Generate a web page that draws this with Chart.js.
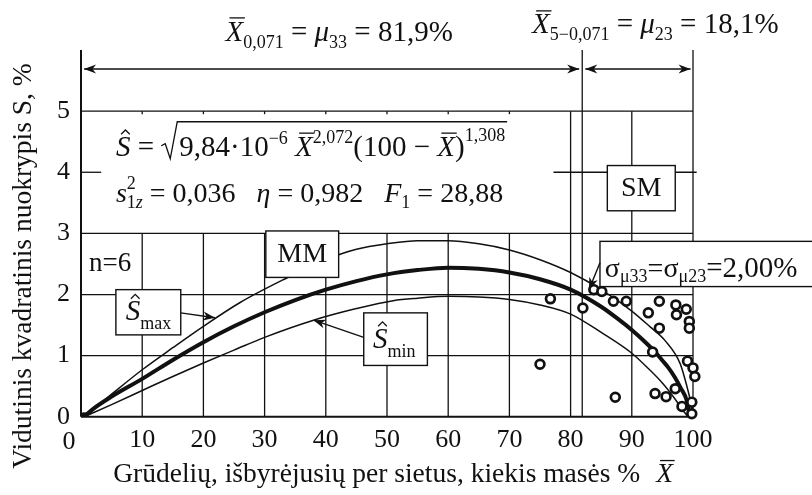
<!DOCTYPE html>
<html lang="lt">
  <head>
    <meta charset="utf-8" />
    <title>Vidutinis kvadratinis nuokrypis</title>
    <style>
      * {
        margin: 0;
        padding: 0;
      }
      body {
        background: #fff;
      }
    </style>
  </head>
  <body>
    <canvas id="myChart" width="812" height="495"></canvas>

    <script src="https://cdn.jsdelivr.net/npm/chart.js"></script>

    <script>
      const SERIF = '"Liberation Serif", "Times New Roman", serif';
      const INK = "#111";

      // y axis tick labels (axis runs to 6, no label there)
      const yTicks = [0, 1, 2, 3, 4, 5];

      // bold curve: regression S^
      const meanX = [0.5, 2, 5, 10, 15, 20, 25, 30, 35, 40, 45, 50, 55, 60, 65, 70, 75, 80, 85, 88, 90, 92, 94, 95, 96, 97, 98, 99, 99.5];
      const meanS = [0, 0.13, 0.33, 0.62, 0.93, 1.22, 1.48, 1.71, 1.91, 2.08, 2.22, 2.33, 2.4, 2.44, 2.42, 2.36, 2.25, 2.08, 1.8, 1.58, 1.42, 1.24, 1.04, 0.92, 0.8, 0.65, 0.47, 0.26, 0];

      // upper thin curve S^max
      const maxX = [0.5, 5, 10, 15, 20, 26, 33, 40, 45, 50, 55, 60, 65, 70, 75, 80, 85, 90, 93, 95.4, 97.9, 99, 99.6, 100];
      const maxS = [0, 0.37, 0.77, 1.13, 1.48, 1.87, 2.24, 2.57, 2.74, 2.83, 2.88, 2.88, 2.83, 2.73, 2.57, 2.36, 2.08, 1.73, 1.47, 1.25, 0.87, 0.5, 0.25, 0];

      // lower thin curve S^min
      const minX = [0.5, 5, 10, 15, 20, 25, 30, 38, 45, 51, 55, 60, 65, 70, 75, 80, 85, 90, 93, 95.1, 97, 98.4, 99.2];
      const minS = [0, 0.2, 0.43, 0.66, 0.88, 1.09, 1.3, 1.58, 1.77, 1.9, 1.94, 1.97, 1.96, 1.92, 1.83, 1.68, 1.38, 1.04, 0.76, 0.54, 0.3, 0.1, 0];

      // measured points
      const obsX = [76.7, 75.0, 82.0, 83.8, 85.1, 87.0, 89.1, 94.5, 97.2, 98.9, 92.7, 97.3, 99.4, 99.4, 94.5, 93.4, 99.1, 100, 100.3, 87.3, 93.8, 95.6, 97.1, 98.2, 99.8, 99.8];
      const obsS = [1.93, 0.86, 1.78, 2.08, 2.05, 1.89, 1.89, 1.89, 1.83, 1.76, 1.7, 1.67, 1.56, 1.45, 1.45, 1.06, 0.91, 0.8, 0.66, 0.32, 0.38, 0.33, 0.46, 0.17, 0.24, 0.05];

      const pts = (xs, ys) => xs.map((x, i) => ({ x: x, y: ys[i] }));

      function setFont(ctx, size, italic) {
        ctx.font = (italic ? "italic " : "") + size + "px " + SERIF;
      }

      // draw a run of text pieces (sub/superscripts, overbars, hats)
      function rich(ctx, x, y, parts, base) {
        ctx.textAlign = "left";
        ctx.textBaseline = "alphabetic";
        for (const p of parts) {
          const size = p.s || base;
          setFont(ctx, size, p.i);
          const yy = y + (p.dy || 0);
          ctx.fillText(p.t, x, yy);
          const w = ctx.measureText(p.t).width;
          const top = yy - size * 0.66;
          ctx.lineWidth = 1.3;
          if (p.bar) {
            ctx.beginPath();
            ctx.moveTo(x + size * 0.14, top - size * 0.12);
            ctx.lineTo(x + w + size * 0.06, top - size * 0.12);
            ctx.stroke();
          }
          if (p.hat) {
            const cx = x + w / 2 + size * 0.08;
            const yt = top - size * 0.08;
            ctx.beginPath();
            ctx.moveTo(cx - size * 0.15, yt);
            ctx.lineTo(cx, yt - size * 0.15);
            ctx.lineTo(cx + size * 0.15, yt);
            ctx.stroke();
          }
          if (!p.stay) x += w;
        }
        return x;
      }

      function arrowHead(ctx, x1, y1, x2, y2, len, half) {
        const a = Math.atan2(y2 - y1, x2 - x1);
        ctx.beginPath();
        ctx.moveTo(x2, y2);
        ctx.lineTo(x2 - len * Math.cos(a) + half * Math.sin(a), y2 - len * Math.sin(a) - half * Math.cos(a));
        ctx.lineTo(x2 - len * 0.7 * Math.cos(a), y2 - len * 0.7 * Math.sin(a));
        ctx.lineTo(x2 - len * Math.cos(a) - half * Math.sin(a), y2 - len * Math.sin(a) + half * Math.cos(a));
        ctx.closePath();
        ctx.fill();
      }

      function arrow(ctx, x1, y1, x2, y2, both) {
        ctx.lineWidth = 1.4;
        ctx.beginPath();
        ctx.moveTo(x1, y1);
        ctx.lineTo(x2, y2);
        ctx.stroke();
        arrowHead(ctx, x1, y1, x2, y2, 12, 4.5);
        if (both) arrowHead(ctx, x2, y2, x1, y1, 12, 4.5);
      }

      const frame = {
        id: "frame",
        beforeDatasetsDraw(chart) {
          const { ctx, scales: { x, y } } = chart;
          const px = (v) => x.getPixelForValue(v);
          const py = (v) => y.getPixelForValue(v);
          ctx.save();
          ctx.strokeStyle = INK;
          const H = (v, a, b, w) => {
            ctx.lineWidth = w || 1.3;
            ctx.beginPath();
            ctx.moveTo(px(a), py(v));
            ctx.lineTo(px(b), py(v));
            ctx.stroke();
          };
          const V = (v, a, b, w) => {
            ctx.lineWidth = w || 1.3;
            ctx.beginPath();
            ctx.moveTo(px(v), py(a));
            ctx.lineTo(px(v), py(b));
            ctx.stroke();
          };
          [1, 2, 3, 5].forEach((v) => H(v, 0, 100));
          H(0, 0, 100, 2);
          H(4, 0, 3.3);
          H(4, 77.2, 100.6);
          x.ticks.forEach((t) => {
            if (t.value > 0 && t.value < 80) {
              V(t.value, 0, 3);
              V(t.value, 4.95, 5);
            }
          });
          V(0, 0, 6, 2);
          V(100, 0, 6);
          V(81.9, 0, 6);
          V(80, 0, 5);
          V(90, 0, 5);
          ctx.restore();
        },
        afterDatasetsDraw(chart) {
          const { ctx, scales: { x, y } } = chart;
          const px = (v) => x.getPixelForValue(v);
          const py = (v) => y.getPixelForValue(v);
          ctx.save();
          ctx.strokeStyle = INK;
          ctx.fillStyle = INK;

          const box = (x1, y1, x2, y2) => {
            ctx.fillStyle = "#fff";
            ctx.fillRect(px(x1), py(y2), px(x2) - px(x1), py(y1) - py(y2));
            ctx.lineWidth = 1.4;
            ctx.strokeRect(px(x1), py(y2), px(x2) - px(x1), py(y1) - py(y2));
            ctx.fillStyle = INK;
          };

          // the "0" of the x axis sits left of the corner
          setFont(ctx, 26, false);
          ctx.textAlign = "center";
          ctx.textBaseline = "alphabetic";
          ctx.fillText("0", px(0) - 12, py(0) + 32);

          // top arrows and labels
          arrow(ctx, px(0.5), py(5.69), px(81.4), py(5.69), true);
          arrow(ctx, px(82.4), py(5.69), px(99.6), py(5.69), true);
          rich(ctx, px(23.6), py(6.155), [
            { t: "X", i: 1, bar: 1 }, { t: "0,071", s: 18, dy: 7 }, { t: " = " },
            { t: "μ", i: 1 }, { t: "33", s: 18, dy: 7 }, { t: " = 81,9%" },
          ], 29);
          rich(ctx, px(73.7), py(6.27), [
            { t: "X", i: 1, bar: 1 }, { t: "5−0,071", s: 18, dy: 7 }, { t: " = " },
            { t: "μ", i: 1 }, { t: "23", s: 18, dy: 7 }, { t: " = 18,1%" },
          ], 29);

          // regression formula
          const fy = py(4.27);
          const r0 = rich(ctx, px(5.7), fy, [{ t: "S", i: 1, hat: 1 }, { t: " = " }], 29);
          const fEnd = rich(ctx, r0 + 18, fy, [
            { t: "9,84·10" }, { t: "−6", s: 18, dy: -12 }, { t: " " },
            { t: "X", i: 1, bar: 1 }, { t: "2,072", s: 18, dy: -13 },
            { t: "(100 − " }, { t: "X", i: 1, bar: 1 }, { t: ")" }, { t: "1,308", s: 18, dy: -15 },
          ], 29);
          ctx.lineWidth = 1.3;
          ctx.beginPath();
          ctx.moveTo(r0, fy - 10);
          ctx.lineTo(r0 + 4, fy - 12);
          ctx.lineTo(r0 + 9, fy + 3);
          ctx.lineTo(r0 + 16, fy - 34);
          ctx.lineTo(fEnd + 2, fy - 34);
          ctx.stroke();

          rich(ctx, px(5.7), py(3.51), [
            { t: "s", i: 1 }, { t: "2", s: 18, dy: -13, stay: 1 }, { t: "1", s: 18, dy: 6 }, { t: "z", s: 18, i: 1, dy: 6 },
            { t: " = 0,036   " }, { t: "η", i: 1 }, { t: " = 0,982   " },
            { t: "F", i: 1 }, { t: "1", s: 18, dy: 6 }, { t: " = 28,88" },
          ], 28);

          // n=6
          rich(ctx, px(1.3), py(2.38), [{ t: "n=6" }], 27);

          // labelled boxes
          ctx.textAlign = "center";
          box(30.2, 2.28, 42.1, 3.04);
          setFont(ctx, 28, false);
          ctx.textBaseline = "middle";
          ctx.fillText("MM", px(36.15), py(2.66));
          box(86.0, 3.37, 97.1, 4.11);
          setFont(ctx, 28, false);
          ctx.textBaseline = "middle";
          ctx.fillText("SM", px(91.55), py(3.74));

          box(5.7, 1.34, 16.3, 2.08);
          rich(ctx, px(7.3), py(1.58), [{ t: "S", i: 1, hat: 1 }, { t: "max", s: 18, dy: 9 }], 29);
          box(46.2, 0.84, 56.6, 1.7);
          rich(ctx, px(47.7), py(1.13), [{ t: "S", i: 1, hat: 1 }, { t: "min", s: 18, dy: 9 }], 29);
          arrow(ctx, px(16.3), py(1.7), px(21.9), py(1.62));
          arrow(ctx, px(46.2), py(1.3), px(38.0), py(1.58));

          box(84.8, 2.13, 125, 2.87);
          rich(ctx, px(85.6), py(2.29), [
            { t: "σ" }, { t: "μ33", s: 18, dy: 5 }, { t: "=" },
            { t: "σ" }, { t: "μ23", s: 18, dy: 5 }, { t: "=2,00%", s: 29 },
          ], 28);
          arrow(ctx, px(84.8), py(2.52), px(83.0), py(2.08));

          // axis titles
          ctx.save();
          ctx.translate(24, 266);
          ctx.rotate(-Math.PI / 2);
          setFont(ctx, 27.5, false);
          ctx.textAlign = "center";
          ctx.textBaseline = "middle";
          ctx.fillText("Vidutinis kvadratinis nuokrypis S, %", 0, 0);
          ctx.restore();

          const xt = "Grūdelių, išbyrėjusių per sietus, kiekis masės %";
          setFont(ctx, 27.5, false);
          const w1 = ctx.measureText(xt).width;
          setFont(ctx, 27.5, true);
          const w2 = ctx.measureText("X").width;
          const start = px(51) - (w1 + 16 + w2) / 2;
          rich(ctx, start, 482, [{ t: xt }], 27.5);
          rich(ctx, start + w1 + 16, 482, [{ t: "X", i: 1, bar: 1 }], 27.5);

          ctx.restore();
        },
      };

      const config = {
        type: "scatter",
        data: {
          datasets: [
            {
              label: "Matavimai",
              data: pts(obsX, obsS),
              pointRadius: 4.4,
              pointBorderWidth: 2.7,
              pointBackgroundColor: "#fff",
              pointBorderColor: INK,
              clip: false,
            },
            {
              label: "S",
              data: pts(meanX, meanS),
              showLine: true,
              borderColor: INK,
              borderWidth: 4,
              cubicInterpolationMode: "monotone",
              pointRadius: (c) => (c.dataIndex === 0 ? 4.5 : 0),
              pointBackgroundColor: INK,
              pointBorderWidth: 0,
            },
            {
              label: "Smax",
              data: pts(maxX, maxS),
              showLine: true,
              borderColor: INK,
              borderWidth: 1.5,
              cubicInterpolationMode: "monotone",
              pointRadius: 0,
            },
            {
              label: "Smin",
              data: pts(minX, minS),
              showLine: true,
              borderColor: INK,
              borderWidth: 1.5,
              cubicInterpolationMode: "monotone",
              pointRadius: 0,
            },
          ],
        },
        options: {
          responsive: false,
          animation: false,
          layout: {
            padding: { left: 46, right: 119, top: 50, bottom: 31 },
          },
          plugins: {
            legend: { display: false },
            tooltip: { enabled: false },
          },
          scales: {
            x: {
              type: "linear",
              min: 0,
              max: 100,
              grid: { display: false, drawTicks: false },
              border: { display: false },
              ticks: {
                stepSize: 10,
                padding: 8,
                color: INK,
                font: { family: SERIF, size: 26 },
                callback: (v) => (v === 0 ? "" : v),
              },
            },
            y: {
              type: "linear",
              min: 0,
              max: 6,
              afterBuildTicks: (axis) => {
                axis.ticks = yTicks.map((v) => ({ value: v }));
              },
              grid: { display: false, drawTicks: false },
              border: { display: false },
              ticks: {
                padding: 11,
                color: INK,
                font: { family: SERIF, size: 26 },
              },
            },
          },
        },
        plugins: [frame],
      };

      const myChart = new Chart(document.getElementById("myChart"), config);
    </script>
  </body>
</html>
